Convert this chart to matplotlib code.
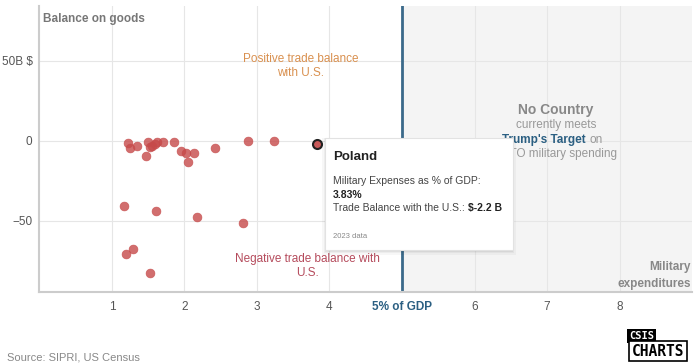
import matplotlib.pyplot as plt
from matplotlib.patches import Rectangle, FancyBboxPatch

plt.rcParams["font.family"] = ["Liberation Sans", "DejaVu Sans"]

# military expenses (% of GDP) and trade balance with the U.S. (B $)
mil_gdp = [1.22, 1.25, 1.34, 1.47, 1.50, 1.52, 1.55, 1.60, 1.62, 1.70, 1.85,
           1.95, 2.02, 2.05, 2.13, 2.42, 2.87, 3.23,
           1.17, 1.61, 2.17, 2.81, 1.29, 1.20, 1.52]
balance = [-1.5, -4.5, -3.5, -9.5, -1.0, -4.0, -3.0, -2.0, -1.0, -0.5, -1.0,
           -6.5, -7.7, -13.5, -7.7, -4.6, -0.4, -0.4,
           -40.6, -44.0, -47.9, -51.3, -67.7, -70.8, -82.7]
hl_name = "Poland"
hl_x = 3.83
hl_y = -2.2
target = 5

xticks = [1, 2, 3, 4, 5, 6, 7, 8]
xlabels = ["1", "2", "3", "4", "5% of GDP", "6", "7", "8"]
yticks = [-50, 0, 50]
ylabels = ["\u221250", "0", "50B $"]

fig = plt.figure(figsize=(7, 3.63), dpi=100)
ax = fig.add_axes([0.0564, 0.195, 0.9322, 0.789])
ax.set_xlim(0, 9)
ax.set_ylim(-94.6, 84.4)

ax.add_patch(Rectangle((target, -94.6), 9 - target, 179, color="#f4f4f4", zorder=0))
ax.set_xticks(xticks)
ax.set_xticklabels(xlabels)
ax.set_yticks(yticks)
ax.set_yticklabels(ylabels)
ax.grid(True, color="#e6e6e6", linewidth=0.8, zorder=0.5)
ax.set_axisbelow(True)
ax.tick_params(length=0, colors="#555555", labelsize=8.5)
ax.tick_params(axis="x", pad=6)
ax.tick_params(axis="y", pad=5)
for lbl in ax.get_xticklabels():
    if lbl.get_text().startswith("5%"):
        lbl.set_color("#2b5f82")
        lbl.set_fontweight("bold")
for s in ["top", "right"]:
    ax.spines[s].set_visible(False)
for s in ["left", "bottom"]:
    ax.spines[s].set_color("#cccccc")
    ax.spines[s].set_linewidth(1.5)

ax.axvline(target, color="#3b6a8a", linewidth=2, zorder=2)

ax.scatter(mil_gdp, balance, s=40, color="#c64a4a", alpha=0.8,
           edgecolors="#c64a4a", linewidths=0.5, zorder=3)
ax.scatter([hl_x], [hl_y], s=42, color="#c95a5a", edgecolors="#222222",
           linewidths=1.5, zorder=4)

ax.text(0.005, 0.975, "Balance on goods", transform=ax.transAxes,
        fontsize=8.5, fontweight="bold", color="#777777", va="top", ha="left")
ax.text(0.998, 0.058, "Military\nexpenditures", transform=ax.transAxes,
        fontsize=8.5, fontweight="bold", color="#888888", va="center",
        ha="right", linespacing=1.5)
ax.text(3.6, 47, "Positive trade balance\nwith U.S.", fontsize=8.5,
        color="#d9904f", ha="center", va="center")
ax.text(3.7, -78, "Negative trade balance with\nU.S.", fontsize=8.5,
        color="#b54b5c", ha="center", va="center")

ax.text(7.12, 19, "No Country", fontsize=10, fontweight="bold",
        color="#888888", ha="center", va="center")
ax.text(7.12, 9.7, "currently meets", fontsize=8.5, color="#999999",
        ha="center", va="center")
ax.text(7.53, 0.6, "Trump's Target", fontsize=8.5, fontweight="bold",
        color="#2b5f82", ha="right", va="center")
ax.text(7.59, 0.6, "on", fontsize=8.5, color="#999999", ha="left", va="center")
ax.text(7.12, -8.4, "NATO military spending", fontsize=8.5, color="#999999",
        ha="center", va="center")

# tooltip
for i, a in enumerate([0.05, 0.04, 0.03]):
    fig.patches.append(FancyBboxPatch((325 / 700 - 0.002 * i, 1 - 252 / 363 - 0.004 * i),
                                      188 / 700 + 0.004 * i, 114 / 363 + 0.004 * i,
                                      boxstyle="square,pad=0", transform=fig.transFigure,
                                      facecolor="black", alpha=a, edgecolor="none",
                                      zorder=10))
fig.patches.append(FancyBboxPatch((325 / 700, 1 - 250 / 363), 188 / 700, 112 / 363,
                                  boxstyle="square,pad=0", transform=fig.transFigure,
                                  facecolor="white", edgecolor="#e2e2e2",
                                  linewidth=0.8, zorder=11))
tx = 333 / 700
fig.text(tx, 1 - 157 / 363, hl_name, fontsize=9.5, fontweight="bold",
         color="#222222", va="center", zorder=12)
fig.text(tx, 1 - 181 / 363, "Military Expenses as % of GDP:", fontsize=7.5,
         color="#444444", va="center", zorder=12)
fig.text(tx, 1 - 195 / 363, f"{hl_x:.2f}%", fontsize=7.5, fontweight="bold",
         color="#222222", va="center", zorder=12)
t = fig.text(tx, 1 - 208 / 363, "Trade Balance with the U.S.: ", fontsize=7.5,
             color="#444444", va="center", zorder=12)
fig.canvas.draw()
bb = t.get_window_extent()
fig.text(bb.x1 / 700, 1 - 208 / 363, f"${hl_y} B", fontsize=7.5,
         fontweight="bold", color="#222222", va="center", zorder=12)
fig.text(tx, 1 - 236 / 363, "2023 data", fontsize=5.5, color="#888888",
         va="center", zorder=12)

fig.text(7 / 700, 1 - 358 / 363, "Source: SIPRI, US Census", fontsize=8,
         color="#888888", va="center")

# logo
fig.text(629 / 700, 1 - 336 / 363, "CSIS", fontsize=7.5, fontweight="bold",
         color="white", family="DejaVu Sans Mono", va="center",
         bbox=dict(boxstyle="square,pad=0.15", facecolor="black", edgecolor="none"))
fig.text(632 / 700, 1 - 351 / 363, "CHARTS", fontsize=10.5, fontweight="bold",
         color="black", family="DejaVu Sans Mono", va="center",
         bbox=dict(boxstyle="square,pad=0.2", facecolor="white",
                   edgecolor="black", linewidth=1.2))

fig.savefig("out.png", dpi=100)
